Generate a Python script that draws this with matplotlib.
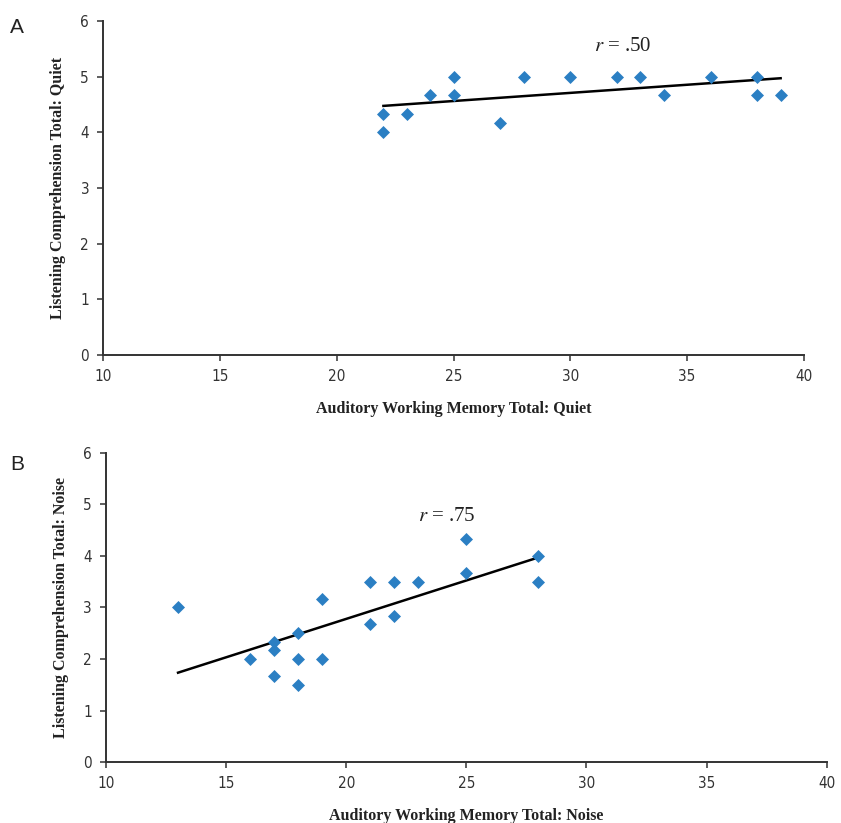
import numpy as np
import matplotlib
matplotlib.use("Agg")
import matplotlib.pyplot as plt

# Panel A: quiet condition
quiet_memory = [22, 22, 23, 24, 25, 25, 27, 28, 30, 32, 33, 34, 36, 38, 38, 39]
quiet_listening = [4.33, 4.0, 4.33, 4.67, 5.0, 4.67, 4.17, 5.0, 5.0, 5.0, 5.0, 4.67, 5.0, 5.0, 4.67, 4.67]
quiet_r = ".50"

# Panel B: noise condition
noise_memory = [13, 16, 17, 17, 17, 18, 18, 18, 19, 19, 21, 21, 22, 22, 23, 25, 25, 28, 28]
noise_listening = [3.0, 2.0, 2.33, 2.17, 1.67, 2.5, 2.0, 1.5, 3.17, 2.0, 3.5, 2.67, 3.5, 2.83, 3.5,
                   4.33, 3.67, 4.0, 3.5]
noise_r = ".75"

x_ticks = [10, 15, 20, 25, 30, 35, 40]
y_ticks = [0, 1, 2, 3, 4, 5, 6]

MARKER_COLOR = "#2b7fc3"
SPINE_COLOR = "#333333"
SERIF = ["Liberation Serif", "DejaVu Serif"]

plt.rcParams["mathtext.fontset"] = "stix"

fig = plt.figure(figsize=(8.41, 8.23), dpi=100)
ax_a = fig.add_axes([0.1225, 0.5687, 0.8335, 0.406])
ax_b = fig.add_axes([0.126, 0.0741, 0.857, 0.3755])


def draw_panel(ax, xs, ys, r_text, r_pos, xlabel, ylabel, letter, letter_pos):
    ax.scatter(xs, ys, marker="D", s=44, color=MARKER_COLOR, linewidths=0, zorder=3)

    # least-squares trend line over the observed range
    slope, intercept = np.polyfit(xs, ys, 1)
    fit_x = np.array([min(xs), max(xs)])
    ax.plot(fit_x, slope * fit_x + intercept, color="black", linewidth=1.8, zorder=2)

    ax.text(r_pos[0], r_pos[1], r"$r$" + " = " + r_text, fontsize=15,
            family=SERIF, ha="left", va="center", color="#222222")

    ax.set_xlim(10, 40)
    ax.set_ylim(0, 6)
    ax.set_xticks(x_ticks)
    ax.set_yticks(y_ticks)
    for side in ("top", "right"):
        ax.spines[side].set_visible(False)
    for side in ("left", "bottom"):
        ax.spines[side].set_color(SPINE_COLOR)
        ax.spines[side].set_linewidth(1.4)
    ax.tick_params(axis="both", direction="out", length=4, width=1.1, color=SPINE_COLOR,
                   labelsize=11, labelcolor="#333333", pad=6)
    for lbl in ax.get_xticklabels() + ax.get_yticklabels():
        lbl.set_family("DejaVu Sans")
        lbl.set_fontstretch("condensed")

    ax.set_xlabel(xlabel, family=SERIF, fontweight="bold", fontsize=11.5, labelpad=12,
                  color="#222222")
    ax.set_ylabel(ylabel, family=SERIF, fontweight="bold", fontsize=11.5, labelpad=10,
                  color="#222222")
    fig.text(letter_pos[0], letter_pos[1], letter, fontsize=15, family="Liberation Sans",
             ha="left", va="center", color="#222222")


draw_panel(ax_a, quiet_memory, quiet_listening, quiet_r, (31.0, 5.53),
           "Auditory Working Memory Total: Quiet", "Listening Comprehension Total: Quiet",
           "A", (0.012, 0.967))
draw_panel(ax_b, noise_memory, noise_listening, noise_r, (23.0, 4.76),
           "Auditory Working Memory Total: Noise", "Listening Comprehension Total: Noise",
           "B", (0.012, 0.435))

fig.savefig("out.png", dpi=100)
